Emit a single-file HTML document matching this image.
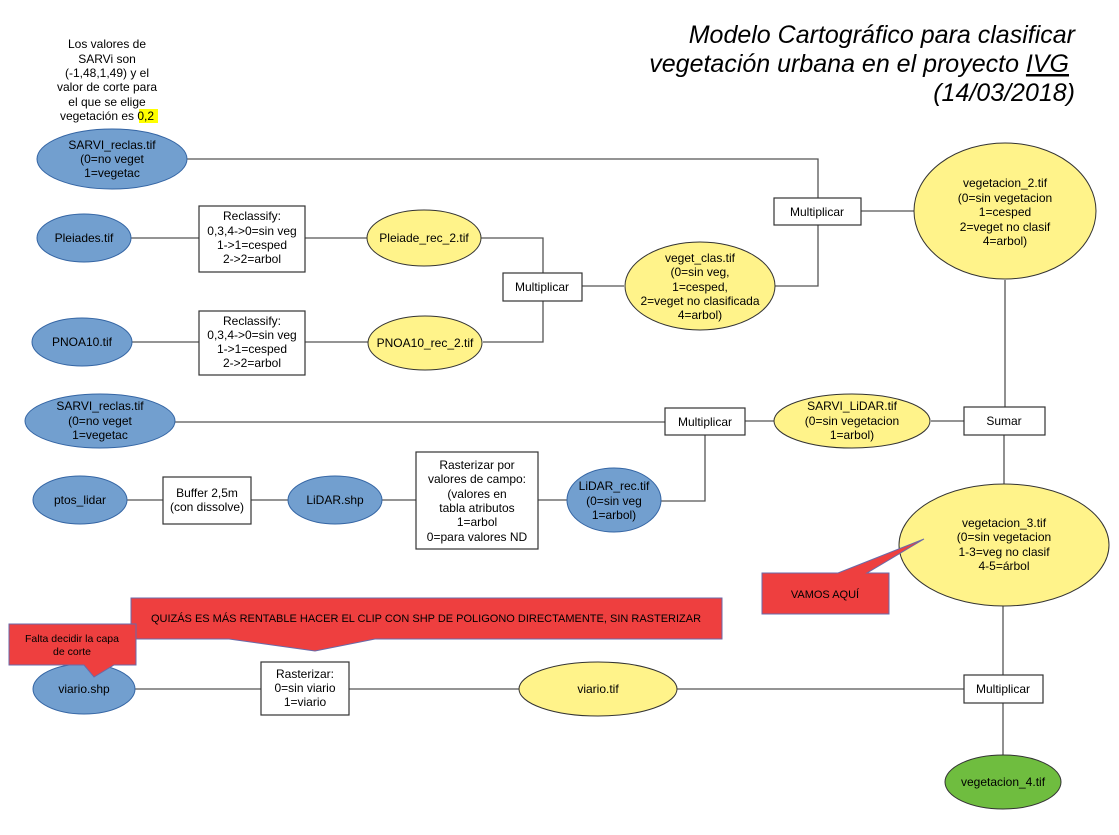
<!DOCTYPE html>
<html><head><meta charset="utf-8"><style>
html,body{margin:0;padding:0;background:#fff;}
svg{display:block;font-family:"Liberation Sans",sans-serif;}
text{font-size:12px;fill:#000;text-anchor:middle;}
.l{stroke:#555;stroke-width:1.3;fill:none;}
.b{fill:#729fcf;stroke:#3465a4;stroke-width:1;}
.y{fill:#fff38a;stroke:#333;stroke-width:1;}
.g{fill:#6fbd3f;stroke:#333;stroke-width:1;}
.r{fill:#fff;stroke:#333;stroke-width:1.2;}
.c{fill:#ee3f3f;stroke:#6a6aa8;stroke-width:1;}
.t{font-size:25px;font-style:italic;text-anchor:end;}
.s{font-size:11px;}
</style></head><body>
<svg width="1119" height="835" viewBox="0 0 1119 835">
<!-- title -->
<text class="t" x="1075" y="43">Modelo Cartográfico para clasificar</text>
<text class="t" x="1069" y="72">vegetación urbana en el proyecto <tspan text-decoration="underline">IVG</tspan></text>
<text class="t" x="1075" y="101">(14/03/2018)</text>
<!-- note -->
<text x="107" y="48">Los valores de</text>
<text x="107" y="63">SARVi son</text>
<text x="107" y="77">(-1,48,1,49) y el</text>
<text x="107" y="91">valor de corte para</text>
<text x="107" y="106">el que se elige</text>
<rect x="139" y="109" width="19" height="14" fill="#ffff00"/>
<text x="107" y="120">vegetación es 0,2</text>

<!-- connectors -->
<polyline class="l" points="187,159 818,159 818,198"/>
<polyline class="l" points="818,225 818,286 775,286"/>
<line class="l" x1="861" y1="211" x2="914" y2="211"/>
<line class="l" x1="130" y1="238" x2="199" y2="238"/>
<line class="l" x1="305" y1="238" x2="367" y2="238"/>
<polyline class="l" points="481,238 543,238 543,273"/>
<polyline class="l" points="483,342 543,342 543,301"/>
<line class="l" x1="132" y1="342" x2="199" y2="342"/>
<line class="l" x1="305" y1="342" x2="368" y2="342"/>
<line class="l" x1="582" y1="286" x2="624" y2="286"/>
<line class="l" x1="1005" y1="280" x2="1005" y2="407"/>
<line class="l" x1="175" y1="422" x2="665" y2="422"/>
<line class="l" x1="745" y1="421" x2="774" y2="421"/>
<line class="l" x1="931" y1="421" x2="964" y2="421"/>
<polyline class="l" points="661,501 705,501 705,435"/>
<line class="l" x1="127" y1="500" x2="163" y2="500"/>
<line class="l" x1="251" y1="500" x2="289" y2="500"/>
<line class="l" x1="382" y1="500" x2="416" y2="500"/>
<line class="l" x1="538" y1="500" x2="567" y2="500"/>
<line class="l" x1="1004" y1="435" x2="1004" y2="484"/>
<line class="l" x1="1003" y1="606" x2="1003" y2="675"/>
<line class="l" x1="1003" y1="703" x2="1003" y2="755"/>
<line class="l" x1="135" y1="689" x2="261" y2="689"/>
<line class="l" x1="349" y1="689" x2="519" y2="689"/>
<line class="l" x1="677" y1="689" x2="964" y2="689"/>

<!-- nodes -->
<ellipse class="b" cx="112" cy="159" rx="75" ry="30"/>
<text x="112" y="149">SARVI_reclas.tif</text>
<text x="112" y="163">(0=no veget</text>
<text x="112" y="177">1=vegetac</text>

<ellipse class="b" cx="84" cy="238" rx="47" ry="24"/>
<text x="84" y="242">Pleiades.tif</text>

<rect class="r" x="199" y="206" width="106" height="66"/>
<text x="252" y="220">Reclassify:</text>
<text x="252" y="235">0,3,4-&gt;0=sin veg</text>
<text x="252" y="249">1-&gt;1=cesped</text>
<text x="252" y="263">2-&gt;2=arbol</text>

<ellipse class="y" cx="424" cy="238" rx="57" ry="28"/>
<text x="424" y="242">Pleiade_rec_2.tif</text>

<rect class="r" x="503" y="273" width="79" height="28"/>
<text x="542" y="291">Multiplicar</text>

<ellipse class="b" cx="82" cy="342" rx="50" ry="24"/>
<text x="82" y="346">PNOA10.tif</text>

<rect class="r" x="199" y="311" width="106" height="64"/>
<text x="252" y="325">Reclassify:</text>
<text x="252" y="339">0,3,4-&gt;0=sin veg</text>
<text x="252" y="353">1-&gt;1=cesped</text>
<text x="252" y="367">2-&gt;2=arbol</text>

<ellipse class="y" cx="425" cy="343" rx="57" ry="27"/>
<text x="425" y="347">PNOA10_rec_2.tif</text>

<ellipse class="y" cx="700" cy="286" rx="75" ry="44"/>
<text x="700" y="262">veget_clas.tif</text>
<text x="700" y="276">(0=sin veg,</text>
<text x="700" y="291">1=cesped,</text>
<text x="700" y="305">2=veget no clasificada</text>
<text x="700" y="319">4=arbol)</text>

<rect class="r" x="774" y="198" width="87" height="27"/>
<text x="817" y="216">Multiplicar</text>

<ellipse class="y" cx="1005" cy="211" rx="91" ry="68"/>
<text x="1005" y="187">vegetacion_2.tif</text>
<text x="1005" y="202">(0=sin vegetacion</text>
<text x="1005" y="216">1=cesped</text>
<text x="1005" y="231">2=veget no clasif</text>
<text x="1005" y="245">4=arbol)</text>

<ellipse class="b" cx="100" cy="421" rx="75" ry="27"/>
<text x="100" y="410">SARVI_reclas.tif</text>
<text x="100" y="425">(0=no veget</text>
<text x="100" y="439">1=vegetac</text>

<rect class="r" x="665" y="408" width="80" height="27"/>
<text x="705" y="426">Multiplicar</text>

<ellipse class="y" cx="852" cy="421" rx="78" ry="27"/>
<text x="852" y="410">SARVI_LiDAR.tif</text>
<text x="852" y="425">(0=sin vegetacion</text>
<text x="852" y="439">1=arbol)</text>

<rect class="r" x="964" y="407" width="81" height="28"/>
<text x="1004" y="425">Sumar</text>

<ellipse class="b" cx="80" cy="500" rx="47" ry="24"/>
<text x="80" y="504">ptos_lidar</text>

<rect class="r" x="163" y="477" width="88" height="47"/>
<text x="207" y="497">Buffer 2,5m</text>
<text x="207" y="511">(con dissolve)</text>

<ellipse class="b" cx="335" cy="500" rx="47" ry="24"/>
<text x="335" y="504">LiDAR.shp</text>

<rect class="r" x="416" y="452" width="122" height="97"/>
<text x="477" y="469">Rasterizar por</text>
<text x="477" y="483">valores de campo:</text>
<text x="477" y="498">(valores en</text>
<text x="477" y="512">tabla atributos</text>
<text x="477" y="526">1=arbol</text>
<text x="477" y="541">0=para valores ND</text>

<ellipse class="b" cx="614" cy="500" rx="47" ry="32"/>
<text x="614" y="490">LiDAR_rec.tif</text>
<text x="614" y="505">(0=sin veg</text>
<text x="614" y="519">1=arbol)</text>

<ellipse class="y" cx="1004" cy="545" rx="105" ry="61"/>
<text x="1004" y="527">vegetacion_3.tif</text>
<text x="1004" y="541">(0=sin vegetacion</text>
<text x="1004" y="556">1-3=veg no clasif</text>
<text x="1004" y="570">4-5=árbol</text>

<ellipse class="b" cx="84" cy="689" rx="51" ry="25"/>
<text x="84" y="693">viario.shp</text>

<rect class="r" x="261" y="662" width="88" height="53"/>
<text x="305" y="678">Rasterizar:</text>
<text x="305" y="692">0=sin viario</text>
<text x="305" y="706">1=viario</text>

<ellipse class="y" cx="598" cy="689" rx="79" ry="27"/>
<text x="598" y="693">viario.tif</text>

<rect class="r" x="964" y="675" width="79" height="28"/>
<text x="1003" y="693">Multiplicar</text>

<ellipse class="g" cx="1003" cy="782" rx="58" ry="27"/>
<text x="1003" y="786">vegetacion_4.tif</text>

<!-- callouts -->
<path class="c" d="M131,598 H722 V639 H375 L315,651 L229,639 H131 Z"/>
<text class="s" x="426" y="622">QUIZÁS ES MÁS RENTABLE HACER EL CLIP CON SHP DE POLIGONO DIRECTAMENTE, SIN RASTERIZAR</text>

<path class="c" d="M9,624 H136 V665 H114 L94,677 L84,665 H9 Z"/>
<text x="72" y="642" style="font-size:10.5px">Falta decidir la capa</text>
<text x="72" y="655" style="font-size:10.5px">de corte</text>

<path class="c" d="M762,573 H838 L924,539 L867,573 H889 V614 H762 Z"/>
<text class="s" x="825" y="598">VAMOS AQUÍ</text>
</svg>
</body></html>
